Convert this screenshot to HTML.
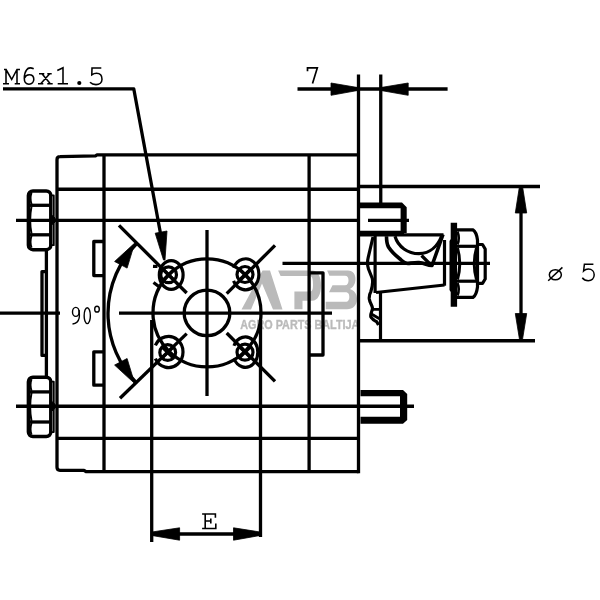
<!DOCTYPE html>
<html><head><meta charset="utf-8"><style>
html,body{margin:0;padding:0;background:#fff;width:600px;height:600px;overflow:hidden}
svg{display:block}
</style></head><body>
<svg width="600" height="600" viewBox="0 0 600 600">
<rect width="600" height="600" fill="#fff"/>

<!-- watermark -->
<g fill="#bababa" stroke="#bababa" stroke-width="0" style="will-change:transform">
<path d="M241.5,309.5 L262.5,270.5 L270,270.5 L282.5,309.5 L273,309.5 L262,283.5 L251,309.5 Z"/>
<path d="M278.1,270.6 L312,270.6 C318,270.6 321,277 321,285.5 C321,294 318,300.7 312,300.7 L302.5,300.7 L302.5,309.3 L294.4,309.3 L294.4,291.6 L310,291.6 C312.5,291.6 313,289 313,284.5 C313,280 312.5,276 310,276 L280.6,276 Z"/>
<path d="M327.1,270.6 L348,270.6 C353,270.6 355.5,274.5 355.5,279 C355.5,284 353,287.5 350,289 C354.5,290.5 357,294 357,299 C357,305.5 353,309.3 347,309.3 L325.7,309.3 L325.7,301.8 L345.5,301.8 C348.5,301.8 349.3,299.5 349.3,297 C349.3,294.5 348.5,292.3 345.5,292.3 L329,292.3 L332.5,285.3 L345,285.3 C347.5,285.3 348.5,283 348.5,280.5 C348.5,277.5 347.5,275.7 345,275.7 L329.4,275.7 Z"/>
<text x="240.3" y="329" font-family="Liberation Sans" font-weight="bold" font-size="12.5" stroke-width="0.35" textLength="119" lengthAdjust="spacingAndGlyphs">AGRO PARTS BALTIJA</text>
</g>

<g fill="none" stroke="#000" stroke-width="3.3" stroke-linecap="butt" stroke-linejoin="round">
<!-- leader M6x1.5 -->
<polyline points="3,88.8 133.75,88.8 163,247"/>

<!-- dimension 7 -->
<line x1="297.5" y1="89" x2="447.6" y2="89"/>
<line x1="358.5" y1="74.5" x2="358.5" y2="473.2"/>
<line x1="380.75" y1="74.5" x2="380.75" y2="205"/>

<!-- body -->
<path d="M358.75,154.9 L97,154.9 L95.5,155.8 L60,156.7 Q57,156.7 57,159.7 L57,467.3 Q57,470.3 60,470.3 L84,470.3 L86,471.6 L358.3,471.6 L358.3,470"/>
<line x1="104" y1="155" x2="104" y2="471"/>
<line x1="309.1" y1="155" x2="309.1" y2="471.5"/>
<line x1="57" y1="189.25" x2="358.75" y2="189.25"/>
<line x1="358.75" y1="186.5" x2="540" y2="186.5"/>
<line x1="16" y1="220.3" x2="358.5" y2="220.3"/>
<line x1="16" y1="406.25" x2="414" y2="406.25"/>
<line x1="57" y1="438.3" x2="358.75" y2="438.3"/>
<line x1="0" y1="313.2" x2="60" y2="313.2"/>
<line x1="119" y1="313.1" x2="332" y2="313.1"/>
<line x1="282.5" y1="263.3" x2="490" y2="263.3"/>
<line x1="360" y1="340.75" x2="535" y2="340.75"/>

<!-- dia 5 dimension -->
<line x1="521" y1="200" x2="521" y2="328"/>

<!-- left bolts -->
<rect x="28.4" y="190.9" width="22.4" height="58.8" rx="4.5" stroke-width="3.5"/>
<line x1="28.4" y1="205.3" x2="50.8" y2="205.3"/>
<line x1="28.4" y1="234.8" x2="50.8" y2="234.8"/>
<path d="M31.5,192.9 Q29.5,198.1 31.5,204.3 M31.5,206.3 Q28.8,220.1 31.5,233.8 M31.5,235.8 Q29.5,242.2 31.5,247.7" stroke-width="2"/>
<rect x="50.8" y="195.4" width="3" height="49.8" stroke-width="1.8"/>
<path d="M50.5,214 L55,218 L55,222 L50.5,226 Z" fill="#000" stroke-width="1"/>
<rect x="28.4" y="377.2" width="22.4" height="59.4" rx="4.5" stroke-width="3.5"/>
<line x1="28.4" y1="391.9" x2="50.8" y2="391.9"/>
<line x1="28.4" y1="422" x2="50.8" y2="422"/>
<path d="M31.5,379.2 Q29.5,384.5 31.5,390.9 M31.5,392.9 Q28.8,406.9 31.5,421.0 M31.5,423.0 Q29.5,429.3 31.5,434.6" stroke-width="2"/>
<rect x="50.8" y="381.7" width="3" height="50.4" stroke-width="1.8"/>
<path d="M50.5,400.3 L55,404.3 L55,408.3 L50.5,412.3 Z" fill="#000" stroke-width="1"/>
<line x1="46.4" y1="250" x2="46.4" y2="377"/>
<polyline points="46.4,271.6 42,271.6 42,355.4 46.4,355.4"/>

<!-- inner small tabs -->
<polyline points="104,241.5 93.8,241.5 93.8,275.6 104,275.6"/>
<polyline points="104,351.8 93.8,351.8 93.8,385.2 104,385.2"/>
<polyline points="309.1,272.8 323,272.8 323,355 309.1,355"/>

<!-- flange -->
<circle cx="207" cy="312.9" r="54"/>
<circle cx="207" cy="312.9" r="22.8"/>
<line x1="207" y1="230" x2="207" y2="396"/>
<line x1="151.7" y1="320" x2="151.7" y2="542"/>
<line x1="260.5" y1="320" x2="260.5" y2="537"/>
<line x1="151.7" y1="534" x2="260.5" y2="534"/>
<!-- diagonals -->
<line x1="119" y1="225.3" x2="186.7" y2="293"/>
<line x1="275" y1="245.3" x2="226.7" y2="293.6"/>
<line x1="120" y1="398.3" x2="186.7" y2="333.6"/>
<line x1="275" y1="381.3" x2="226.7" y2="333"/>
<!-- 90 deg arc -->
<path d="M 137,243.3 A 99 99 0 0 0 137,383.3"/>
</g>

<!-- holes -->
<g fill="none" stroke="#000" stroke-width="3.2">
<ellipse cx="171.2" cy="275" rx="11.9" ry="14.3"/>
<circle cx="168.6" cy="274.8" r="7.9"/>
<path d="M162.9,269.1 L174.3,280.5 M162.9,280.5 L174.3,269.1"/>
<path d="M153,266.3 L157.5,266.5 M153.5,282.5 L158.5,286.3"/>
<path d="M233.55,267.75 A13.3 15.5 0 1 1 233.55,280.85"/>
<circle cx="245" cy="274.5" r="8"/>
<path d="M239.3,268.8 L250.7,280.2 M239.3,280.2 L250.7,268.8"/>
<path d="M155.36,345.45 A14.5 15.5 0 1 1 155.36,358.55"/>
<circle cx="167.7" cy="352.5" r="7.9"/>
<path d="M162.0,346.8 L173.4,358.2 M162.0,358.2 L173.4,346.8"/>
<path d="M233.97,345.75 A12.5 15.15 0 1 1 233.97,358.55"/>
<circle cx="245" cy="352.2" r="8"/>
<path d="M239.3,346.5 L250.7,357.9 M239.3,357.9 L250.7,346.5"/>
</g>

<!-- shaft -->
<g fill="none" stroke="#000" stroke-width="3.2" stroke-linejoin="round">
<line x1="368" y1="220.4" x2="409" y2="220.4"/>
<line x1="359" y1="232.3" x2="404" y2="232.3"/>
<line x1="359" y1="234.9" x2="443.5" y2="234.9"/>
<line x1="444.5" y1="240" x2="444.5" y2="285.7"/>
<line x1="376" y1="292.5" x2="444.5" y2="285"/>
<line x1="375.1" y1="235.7" x2="375.1" y2="293"/>
<line x1="380.5" y1="292.5" x2="380.5" y2="341"/>
<path d="M373,237 L368.2,257.5 C367.2,261.5 367.2,265 368.5,269 L372.3,278.5 C373.3,283 372,288 370.8,291.7 C369.5,294 369,296 369.3,299 C369.8,303 372.5,305.5 372.5,308.3 C372.5,311 370.3,313 370.8,316.7 C372,319 375,321 376.7,321.7 L378.5,325"/>
<path d="M372,309.4 L379,309.4 M371,313.8 L379.5,318.8" stroke-width="2.8"/>
<path d="M395,236.3 C398,247 408,253.5 419,253.7 C430,253.5 438,246 442,235"/>
<path d="M386.5,236.3 C386.5,240 386.8,244 388.5,247 C391,251 395,255 400,259 C403,261.5 405,263.5 408,263.5 C412,263 415,262.3 419,262.5 C424,262.8 427,265.5 432,265.5 L443,234.5" stroke-width="3.6"/>
<path d="M421.5,255.5 L431,265"/>
<path d="M457,229.8 L473,229.8 Q476.5,232 477.5,240 L477.5,287 Q476.5,295 473,297.4 L457,297.4"/>
<line x1="457" y1="246.3" x2="477.5" y2="246.3"/>
<line x1="457" y1="281.2" x2="477.5" y2="281.2"/>
<path d="M457.5,248 Q462,263.5 457.5,279.5" stroke-width="3"/>
<path d="M476.5,248 Q472,263.5 476.5,279.5" stroke-width="3"/>
<path d="M457.5,231.5 Q460,238.5 457.5,244.5" stroke-width="2.6"/>
<path d="M457.5,283 Q460,289.5 457.5,295.5" stroke-width="2.6"/>
<path d="M478.5,244.5 L482.5,244.5 L485.2,249 L485.2,279 L482.5,283.3 L478.5,283.3"/>
</g>
<path d="M358,202.5 L402,202.5 L406.7,207.2 L406.7,233 L400.6,233 L400.6,208.3 L358,208.3 Z" fill="#000"/>
<path d="M450.7,222.8 L457.1,222.8 L457.1,306.7 L450.7,306.7 L450.7,292 L449.5,290 L449.5,241 L450.7,239 Z" fill="#000"/>

<!-- lower stud -->
<g fill="#000">
<path d="M360.5,390 L403,390 L407.2,394 L407.2,420 L403,423.8 L360.5,423.8 L360.5,416.8 L400,416.8 L400,396.3 L360.5,396.3 Z"/>
</g>

<!-- arrowheads -->
<g fill="#000" stroke="#000" stroke-width="0.8" stroke-linejoin="round">
<polygon points="165,260 163.5,260 155.2,233.2 167,231"/>
<polygon points="357.5,87.5 357.5,90.5 331,95.3 331,83"/>
<polygon points="381,87.5 381,90.5 408.2,95.3 408.2,83"/>
<polygon points="519.3,187.5 522.7,187.5 526.7,213 515.3,213"/>
<polygon points="519.5,339.5 522.5,339.5 526.7,313.5 515.3,313.5"/>
<polygon points="152,532 152,535.5 179.6,540.2 179.6,527.8"/>
<polygon points="260,532 260,535.5 233.5,540.2 233.5,527.8"/>
<polygon points="134.7,243.1 114.6,261.5 127.1,268.1"/>
<polygon points="134.7,383.5 114.6,365.1 127.1,358.5"/>
</g>

<!-- texts -->
<g fill="none" stroke="#000" stroke-width="1.55" stroke-linecap="butt" stroke-linejoin="miter">
<path d="M4,69.5 L6,69.5 L6,83.7 M3,83.7 L9,83.7 M6,69.5 L11.7,79.5 L17,69.5 L20,69.5 M17,69.5 L17,83.7 M14.7,83.7 L20,83.7"/>
<path d="M33.7,68.8 C31,67.5 28,67.8 26.5,70 C24.8,72.3 24.3,75.5 24.3,78.5 C24.3,82 26.3,84.2 29,84.2 C32,84.2 33.8,82 33.8,79.3 C33.8,76.5 32,74.7 29.2,74.7 C27,74.7 25.3,76 24.6,78"/>
<path d="M39,73.8 L44.3,73.8 M47.3,73.8 L51.7,73.8 M42,73.8 L50.3,83.7 M49.7,73.8 L40.7,83.7 M38,83.7 L43.3,83.7 M47.3,83.7 L52.7,83.7"/>
<path d="M57.3,70.5 L63,67.7 L63,83.7 M57.7,83.7 L68,83.7"/>
<path d="M101.3,68 L92,68 L91.8,74.8 C93.5,73.6 95,73.3 96.5,73.3 C100,73.3 102,75.8 102,79.2 C102,82.5 99.5,84.6 96,84.6 C93.8,84.6 91.5,83.8 90,82.3"/>
</g>
<circle cx="79.3" cy="83" r="2.1" fill="#000"/>
<path d="M307.5,71.3 L307.5,67.9 L317.3,67.9 L312.5,83.5" fill="none" stroke="#000" stroke-width="1.7"/>
<g fill="none" stroke="#000" stroke-width="1.4">
<ellipse cx="75.8" cy="311.9" rx="3.3" ry="4.5"/>
<path d="M79.1,310 C79.3,313 79.5,315 79.3,317 C78.8,321 76.5,323.5 72.5,324"/>
<ellipse cx="87.25" cy="315.7" rx="3.1" ry="7.9"/>
<ellipse cx="97" cy="309.15" rx="2.3" ry="2.9" stroke-width="1.4"/>
</g>
<g fill="none" stroke="#000" stroke-width="1.5">
<ellipse cx="555.35" cy="274.75" rx="6" ry="5.1"/>
<line x1="548.2" y1="280.8" x2="562.4" y2="267.4"/>
<path d="M593.4,264.2 L584.4,264.2 L583.6,271 C585,269.6 586.5,269 588.3,269 C592,269 594.2,271.5 594.2,274.8 C594.2,278.5 591.6,280.7 588.3,280.7 C585.8,280.7 583.6,279.6 582.3,277.8"/>
</g>

<g fill="none" stroke="#000" stroke-width="1.6">
<path d="M202.1,514 L215.4,514 L215.4,517.8 M205.2,514 L205.2,528.5 M202.1,528.5 L215.8,528.5 L215.8,523.6 M205.2,521 L210.8,521 M210.8,518.4 L210.8,523.5"/>
</g>
</svg>
</body></html>
